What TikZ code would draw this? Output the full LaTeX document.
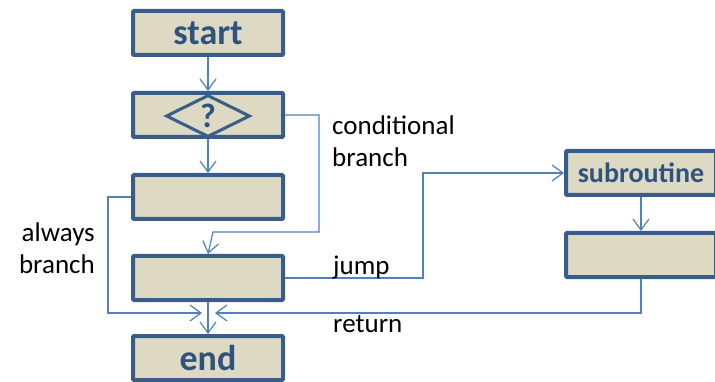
\documentclass[tikz,border=0pt]{standalone}
\usepackage{fontspec}
\setmainfont{Carlito}
\usetikzlibrary{arrows.meta,shapes.geometric}
\definecolor{boxfill}{HTML}{DDD9C3}
\definecolor{boxline}{HTML}{385D8A}
\definecolor{boxtext}{HTML}{30527F}
\definecolor{linkline}{HTML}{4F81BD}

\begin{document}
\begin{tikzpicture}[x=1pt,y=-1pt,
  box/.style={draw=boxline,fill=boxfill,line width=4pt,minimum width=150pt,minimum height=44pt,
    inner sep=0pt,rounded corners=1pt,text=boxtext,font=\fontsize{36}{40}\selectfont\bfseries},
  link/.style={draw=linkline,line width=1.2pt,-{Straight Barb[length=11pt,width=16pt]}},
  note/.style={font=\fontsize{27}{32}\selectfont,inner sep=0pt}]
\useasboundingbox (0,0) rectangle (715,382);
% left column
\node [box] (start) at (208,33) {start};
\node [box] (test) at (208,115) {};
\node [draw=boxline,line width=3pt,diamond,aspect=2,minimum width=84pt,minimum height=42pt,
  inner sep=0pt,text=boxtext,font=\fontsize{34}{40}\selectfont\bfseries] (quest) at (208,116) {?};
\node [box] (step3) at (208,197) {};
\node [box] (step4) at (208,278) {};
\node [box] (end) at (208,358) {end};
% subroutine
\node [box,font=\fontsize{28}{32}\selectfont\bfseries] (sub) at (641,173) {subroutine};
\node [box] (sub2) at (641,255) {};
% turning points
\coordinate (cond) at (319,232);
\coordinate (condin) at (213,232);
\coordinate (always) at (108,313);
\coordinate (mergeL) at (202,313);
\coordinate (mergeR) at (215,313);
\coordinate (jmp) at (423,173);
% connectors
\draw [link] (start) -- (test);
\draw [link] (test) -- (step3);
\draw [link] (test.east) -| (cond) -- (condin) -- (step4.north);
\draw [link] (step3.west) -| (always) -- (mergeL);
\draw [link] (step4) -- (end);
\draw [link] (step4.east) -| (jmp) -- (sub.west);
\draw [link] (sub) -- (sub2);
\draw [link] (sub2.south) |- (mergeR);
% texts
\node [note,anchor=base west,align=left] (condtxt) at (332,167) {conditional\\branch};
\node [note,anchor=base east,align=right] (alwtxt) at (95,273) {always\\branch};
\node [note,anchor=base west] (jmptxt) at (333,275) {jump};
\node [note,anchor=base west] (rettxt) at (333,332) {return};
\end{tikzpicture}
\end{document}
